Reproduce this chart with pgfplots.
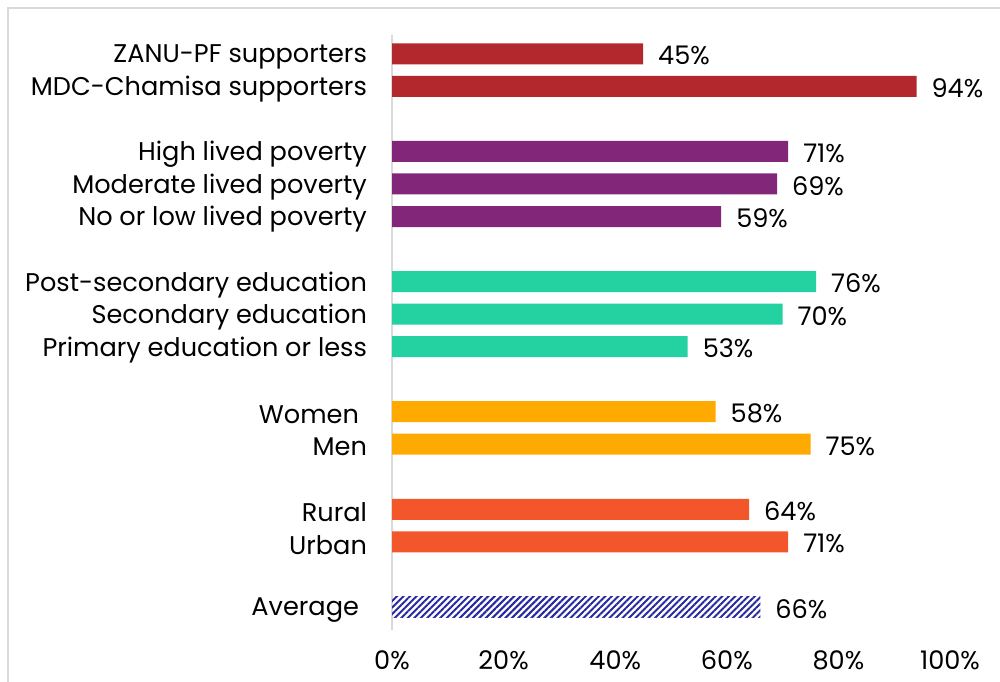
\documentclass[border=0pt]{standalone}
\usepackage{pgfplots}
\pgfplotsset{compat=1.18}
\usetikzlibrary{patterns.meta}
\usepackage{fontspec}
\setmainfont{Poppins}
\definecolor{partyred}{RGB}{179,40,45}
\definecolor{povpurple}{RGB}{130,38,122}
\definecolor{eduteal}{RGB}{36,209,161}
\definecolor{genderamber}{RGB}{255,170,0}
\definecolor{locorange}{RGB}{242,86,42}
\definecolor{avgnavy}{RGB}{40,40,160}
\definecolor{axisgray}{RGB}{217,217,217}

\begin{document}
\begin{tikzpicture}
\useasboundingbox (0,0) rectangle (500pt,340.5pt);
\draw[axisgray, line width=1pt] (4pt,-20pt) rectangle (520pt,336.5pt);
\begin{axis}[
    at={(196pt,25.5pt)}, anchor=south west,
    scale only axis,
    width=279pt, height=297.5pt,
    xbar, bar width=10.5pt, bar shift=0pt,
    xmin=0, xmax=100,
    ymin=-0.71, ymax=17.58,
    axis lines*=left,
    axis x line=none,
    y axis line style={axisgray, line width=1pt},
    clip=false,
    ytick={0,2,3,5,6,8,9,10,12,13,14,16,17},
    yticklabels={\mbox{Average\hspace{4pt}}, Urban, Rural, Men, \mbox{Women\hspace{4pt}},
        Primary education or less, Secondary education, Post-secondary education,
        No or low lived poverty, Moderate lived poverty, High lived poverty,
        MDC-Chamisa supporters, ZANU-PF supporters},
    major tick length=0pt,
    yticklabel style={font=\fontsize{12.8}{13}\selectfont, xshift=-9pt, yshift=-1.5pt},
    /pgf/number format/assume math mode=true,
    point meta=x,
    nodes near coords={\pgfmathprintnumber{\pgfplotspointmeta}\%},
    nodes near coords style={font=\fontsize{12.8}{13}\selectfont, anchor=west, xshift=4pt, yshift=-1pt},
]
\addplot[draw=none, fill=partyred] coordinates {(45,17) (94,16)};
\addplot[draw=none, fill=povpurple] coordinates {(71,14) (69,13) (59,12)};
\addplot[draw=none, fill=eduteal] coordinates {(76,10) (70,9) (53,8)};
\addplot[draw=none, fill=genderamber] coordinates {(58,6) (75,5)};
\addplot[draw=none, fill=locorange] coordinates {(64,3) (71,2)};
\addplot[draw=none, pattern={Lines[angle=45, distance=2.3pt, line width=1pt]}, pattern color=avgnavy] coordinates {(66,0)};
\pgfplotsinvokeforeach{0,20,40,60,80,100}{
  \node[font=\fontsize{12.8}{13}\selectfont] at (axis cs:#1,-0.71) [yshift=-15pt] {#1\%};
}
\end{axis}
\end{tikzpicture}
\end{document}
